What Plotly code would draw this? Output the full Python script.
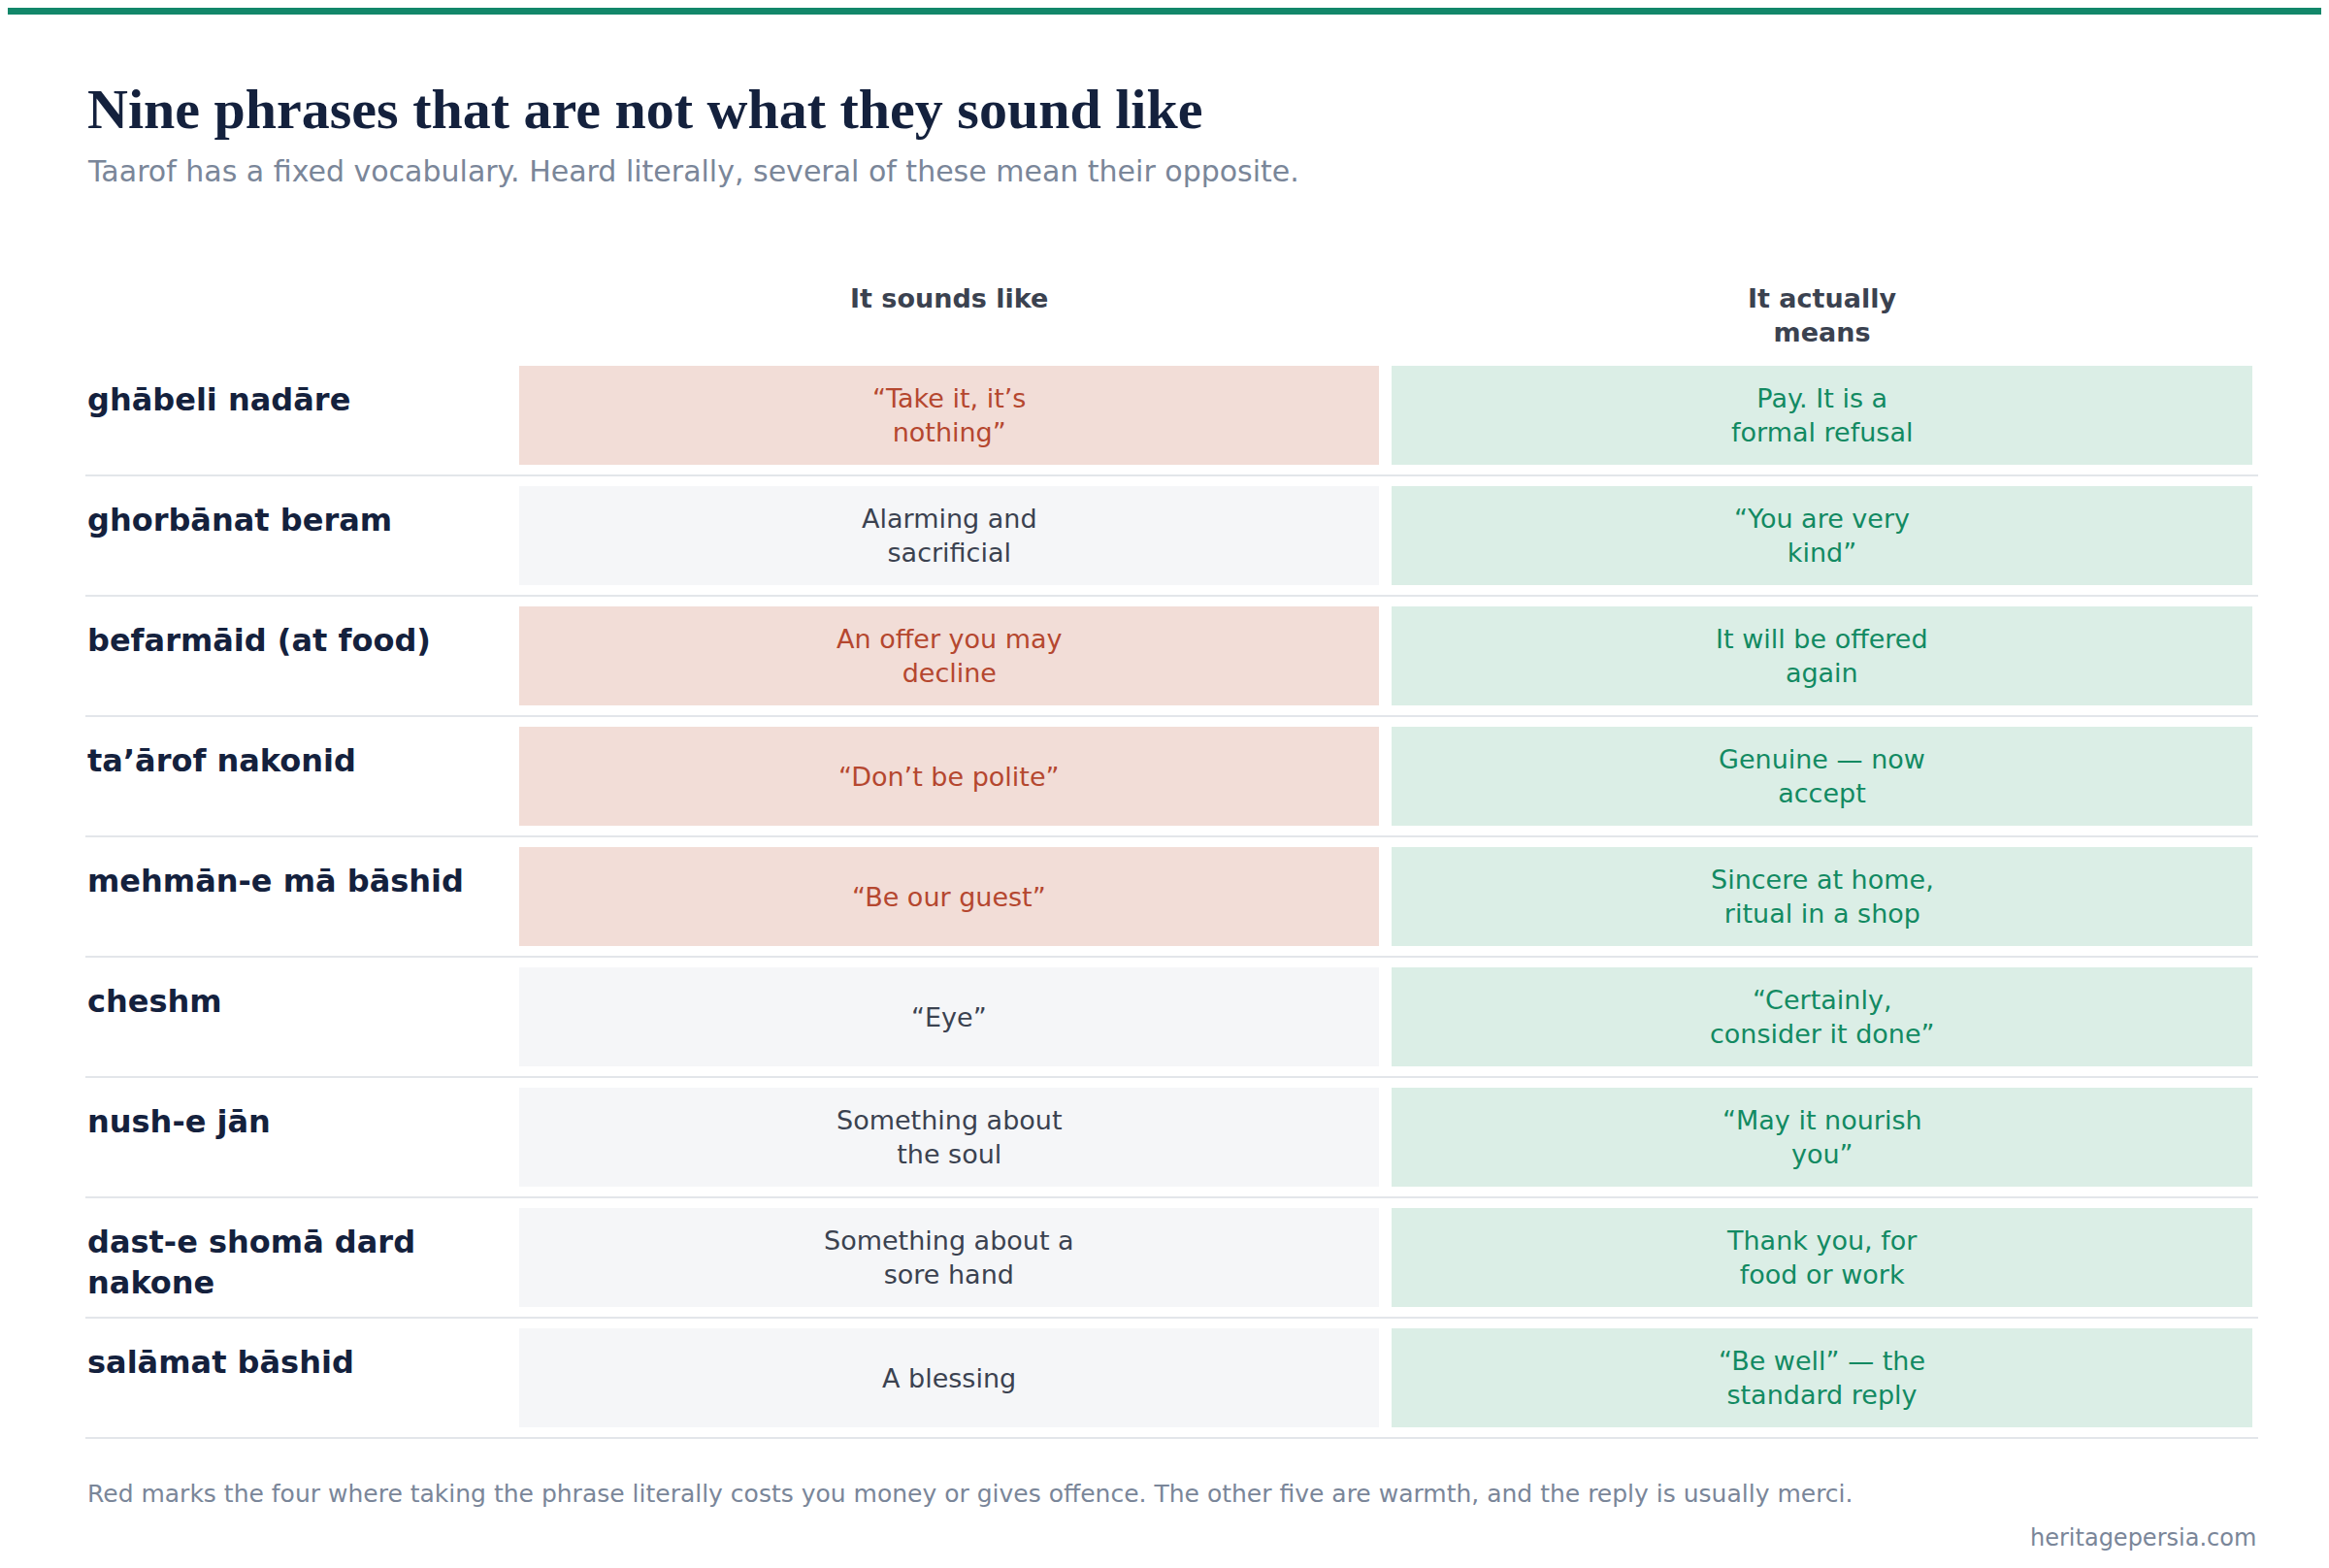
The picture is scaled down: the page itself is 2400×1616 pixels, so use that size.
import plotly.graph_objects as go

title = "Nine phrases that are not what they sound like"
subtitle = "Taarof has a fixed vocabulary. Heard literally, several of these mean their opposite."
col_headers = ["It sounds like", "It actually<br>means"]
phrases = ["ghābeli nadāre", "ghorbānat beram", "befarmāid (at food)", "ta’ārof nakonid",
           "mehmān-e mā bāshid", "cheshm", "nush-e jān", "dast-e shomā dard<br>nakone", "salāmat bāshid"]
sounds = ["“Take it, it’s<br>nothing”", "Alarming and<br>sacrificial", "An offer you may<br>decline",
          "“Don’t be polite”", "“Be our guest”", "“Eye”", "Something about<br>the soul",
          "Something about a<br>sore hand", "A blessing"]
means = ["Pay. It is a<br>formal refusal", "“You are very<br>kind”", "It will be offered<br>again",
         "Genuine — now<br>accept", "Sincere at home,<br>ritual in a shop", "“Certainly,<br>consider it done”",
         "“May it nourish<br>you”", "Thank you, for<br>food or work", "“Be well” — the<br>standard reply"]
costly = [True, False, True, True, True, False, False, False, False]
note = "Red marks the four where taking the phrase literally costs you money or gives offence. The other five are warmth, and the reply is usually merci."
source = "heritagepersia.com"

W, H = 2400, 1616
L, R = 80, 2319
c1 = (527, 1413); c2 = (1426, 2313)
top0, pitch, bh = 369, 124, 102
font = "DejaVu Sans"

fig = go.Figure()
shapes, ann = [], []
shapes.append(dict(type="rect", x0=0, x1=W, y0=0, y1=7, fillcolor="#12876a", line_width=0))
ann.append(dict(x=L, y=104, text="<b>" + title + "</b>", showarrow=False, xanchor="left", yanchor="middle",
                font=dict(family="Liberation Serif", size=58, color="#14213d")))
ann.append(dict(x=L, y=168, text=subtitle, showarrow=False, xanchor="left", yanchor="middle",
                font=dict(family=font, size=30, color="#7a8699")))
for (a, b), h in zip([c1, c2], col_headers):
    ann.append(dict(x=(a + b) / 2, y=282, text="<b>" + h + "</b>", showarrow=False, yanchor="top",
                    font=dict(family=font, size=27, color="#3b4250")))
for i in range(len(phrases)):
    t = top0 + i * pitch
    cy = t + bh / 2
    if costly[i]:
        f1, tc1 = "#f2ddd7", "#b5472f"
    else:
        f1, tc1 = "#f5f6f8", "#3b4250"
    shapes.append(dict(type="rect", x0=c1[0], x1=c1[1], y0=t, y1=t + bh, fillcolor=f1, line_width=0, layer="below"))
    shapes.append(dict(type="rect", x0=c2[0], x1=c2[1], y0=t, y1=t + bh, fillcolor="#dbeee6", line_width=0, layer="below"))
    shapes.append(dict(type="line", x0=L, x1=R, y0=t + bh + 11, y1=t + bh + 11, line=dict(color="#e3e6ea", width=2)))
    ann.append(dict(x=L, y=t + 14, text="<b>" + phrases[i] + "</b>", showarrow=False, xanchor="left", yanchor="top",
                    align="left", font=dict(family=font, size=32, color="#14213d")))
    ann.append(dict(x=sum(c1) / 2, y=cy, text=sounds[i], showarrow=False, yanchor="middle",
                    font=dict(family=font, size=27, color=tc1)))
    ann.append(dict(x=sum(c2) / 2, y=cy, text=means[i], showarrow=False, yanchor="middle",
                    font=dict(family=font, size=27, color="#128a62")))
ann.append(dict(x=L, y=1531, text=note, showarrow=False, xanchor="left", yanchor="middle",
                font=dict(family=font, size=25, color="#7a8699")))
ann.append(dict(x=R, y=1577, text=source, showarrow=False, xanchor="right", yanchor="middle",
                font=dict(family=font, size=24, color="#7a8699")))

fig.update_layout(width=W, height=H, autosize=False, margin=dict(l=0, r=0, t=0, b=0),
                  paper_bgcolor="white", plot_bgcolor="white", shapes=shapes, annotations=ann,
                  xaxis=dict(range=[0, W], visible=False, fixedrange=True),
                  yaxis=dict(range=[H, 0], visible=False, fixedrange=True), showlegend=False)
fig.write_html("out.html")
